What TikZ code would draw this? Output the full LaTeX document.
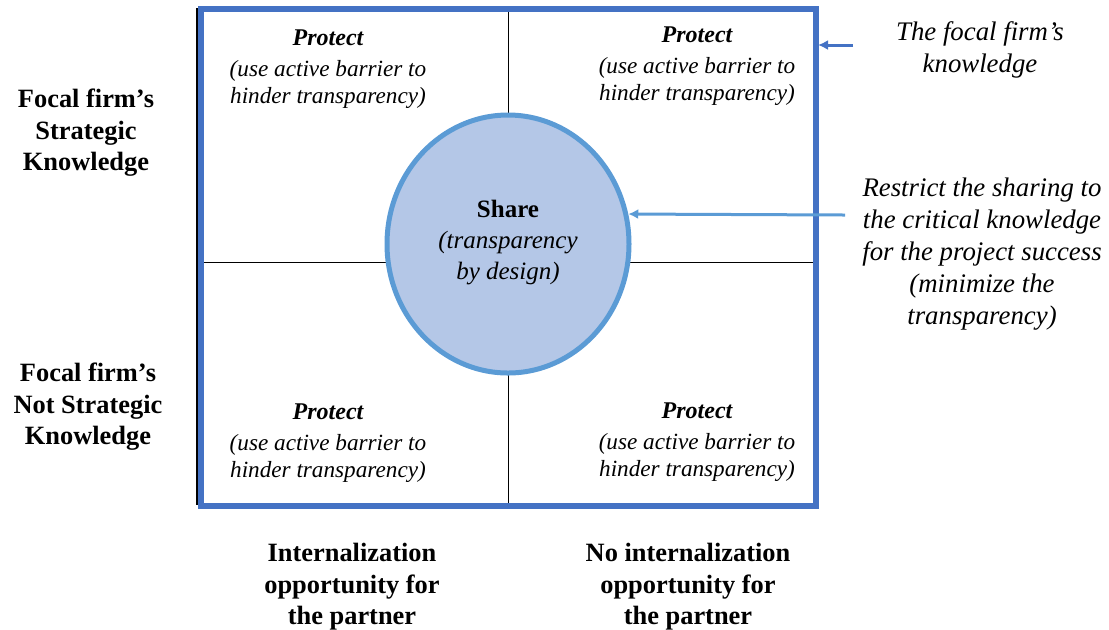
\documentclass[tikz,border=0pt]{standalone}
\usepackage{fontspec}
\setmainfont{Liberation Serif}
\usetikzlibrary{arrows.meta,shapes.geometric}
\definecolor{frameblue}{HTML}{4472C4}
\definecolor{ringblue}{HTML}{5B9BD5}
\definecolor{fillblue}{HTML}{B4C7E7}
\begin{document}
\begin{tikzpicture}[
  x=0.5pt, y=-0.5pt,
  axislabel/.style={align=center, font=\fontsize{13.2}{15.8}\selectfont\bfseries},
  cell/.style={align=center, font=\fontsize{11.6}{13.6}\selectfont\itshape},
  note/.style={align=center, font=\fontsize{13.4}{16}\selectfont\itshape},
  pointer/.style={-{Latex[length=5pt,width=5pt]}, line width=1.5pt}
]
\useasboundingbox (0,0) rectangle (1109,629);
% grid
\draw[line width=0.6pt] (197,8) -- (197,505);
\draw[line width=0.5pt] (508,8) -- (508,505);
\draw[line width=0.5pt] (201,262) -- (815,262);
\draw[frameblue, line width=3pt] (201,8.5) rectangle (815.5,505.5);
\coordinate (frameedge) at (818,45);
% centre
\node[ellipse, draw=ringblue, fill=fillblue, line width=2.5pt,
  minimum width=121pt, minimum height=129pt] (share) at (508,244) {};
\node[align=center, font=\fontsize{12.5}{15.5}\selectfont] (sharetext) at (508,243)
  {\textbf{Share}\\\textit{(transparency}\\\textit{by design)}};
% quadrants
\node[cell] (tl) at (328,69) {\textbf{\large Protect}\\[2pt](use active barrier to\\hinder transparency)};
\node[cell] (tr) at (697,66) {\textbf{\large Protect}\\[2pt](use active barrier to\\hinder transparency)};
\node[cell] (bl) at (328,443) {\textbf{\large Protect}\\[2pt](use active barrier to\\hinder transparency)};
\node[cell] (br) at (697,442) {\textbf{\large Protect}\\[2pt](use active barrier to\\hinder transparency)};
% axis labels
\node[axislabel] (strat) at (86,133) {Focal firm’s\\Strategic\\Knowledge};
\node[axislabel] (notstrat) at (88,407) {Focal firm’s\\Not Strategic\\Knowledge};
\node[axislabel] (intern) at (352,587) {Internalization\\opportunity for\\the partner};
\node[axislabel] (nointern) at (688,587) {No internalization\\opportunity for\\the partner};
% notes
\node[note] (firm) at (980,50) {The focal firm’s\\knowledge};
\node[note] (restrict) at (982,254) {Restrict the sharing to\\the critical knowledge\\for the project success\\(minimize the\\transparency)};
\draw[pointer, frameblue] (853,45) -- (frameedge);
\draw[pointer, ringblue] (845,215) -- (share.14);
\end{tikzpicture}
\end{document}
